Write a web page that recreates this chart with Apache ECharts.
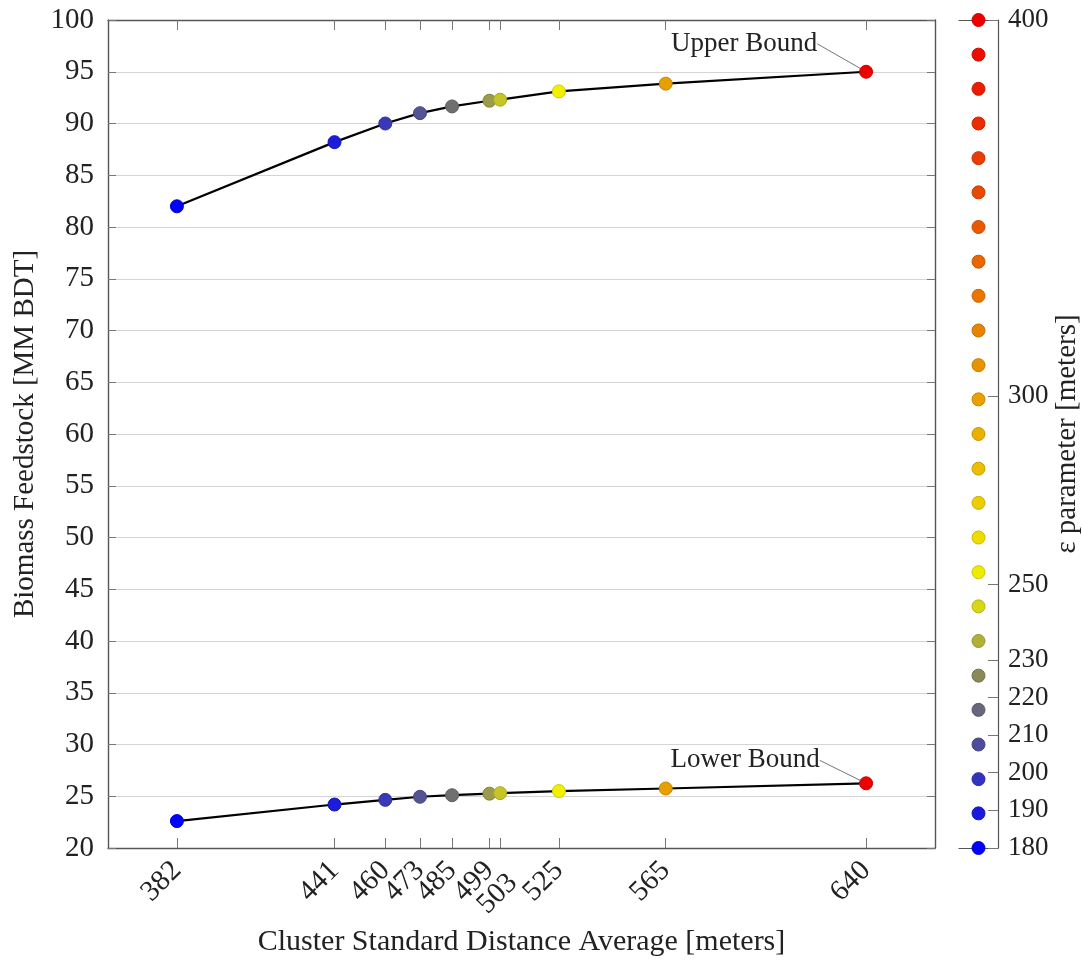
<!DOCTYPE html>
<html>
<head>
<meta charset="utf-8">
<script src="https://cdn.jsdelivr.net/npm/echarts@6/dist/echarts.min.js"></script>
<style>
html,body{margin:0;padding:0;background:#fff;}
#chart{width:1082px;height:960px;}
</style>
</head>
<body>
<div id="chart"></div>
<script>
// ---- data ----
const xVals = [382, 441, 460, 473, 485, 499, 503, 525, 565, 640];
const epsVals = [180, 190, 200, 210, 220, 230, 240, 250, 300, 400];
const upperBound = [82.0, 88.2, 90.0, 91.0, 91.65, 92.2, 92.3, 93.1, 93.85, 95.0];
const lowerBound = [22.6, 24.2, 24.65, 24.95, 25.1, 25.25, 25.3, 25.5, 25.75, 26.25];
const epsTicks = [180, 190, 200, 210, 220, 230, 250, 300, 400];
const colorbarEps = [180, 189.2, 198.3, 207.5, 216.7, 225.8, 235, 244.2, 253.3, 262.5, 271.7, 280.8, 290, 299.2, 308.3, 317.5, 326.7, 335.8, 345, 354.2, 363.3, 372.5, 381.7, 390.8, 400];
const xMin = 356.2, xMax = 665.8;
const yMin = 20, yMax = 100, yStep = 5;
const epsMin = 180, epsMax = 400;

// ---- style ----
const FONT = '"Liberation Serif", "Times New Roman", serif';
const FS = 29;
const frameColor = '#555';
const cmapStops = [[180, [0, 0, 255]], [220, [112, 112, 112]], [250, [240, 240, 0]], [300, [232, 160, 0]], [400, [236, 0, 0]]];
function cmap(v, k) {
  k = k || 1;
  let c = cmapStops[cmapStops.length - 1][1];
  for (let i = 0; i < cmapStops.length - 1; i++) {
    const a = cmapStops[i], b = cmapStops[i + 1];
    if (v >= a[0] && v <= b[0]) {
      const t = (v - a[0]) / (b[0] - a[0]);
      c = a[1].map((x, j) => x + (b[1][j] - x) * t);
      break;
    }
  }
  return 'rgb(' + c.map(x => Math.round(x * k)).join(',') + ')';
}

function lineSeries(name, vals, labelText, dx, dy) {
  const last = vals.length - 1;
  return {
    type: 'line', name: name, xAxisIndex: 0, yAxisIndex: 0,
    data: vals.map((v, i) => ({
      value: [xVals[i], v],
      itemStyle: { color: cmap(epsVals[i]), borderColor: cmap(epsVals[i], 0.85), borderWidth: 1, opacity: 1 },
      label: i === last ? { show: true, formatter: labelText } : { show: false }
    })),
    symbol: 'circle', symbolSize: 13, showSymbol: true,
    lineStyle: { color: '#000', width: 2.2 },
    label: { position: 'inside', fontFamily: FONT, fontSize: 27, color: '#222' },
    labelLayout: function (p) { return p.dataIndex === last ? { dx: dx, dy: dy } : {}; },
    labelLine: { show: true, lineStyle: { color: '#777', width: 1 } },
    z: 3, animation: false
  };
}

const chart = echarts.init(document.getElementById('chart'), null, { renderer: 'canvas' });
chart.setOption({
  animation: false,
  backgroundColor: '#fff',
  grid: [
    { left: 108, right: 147, top: 20, bottom: 112, containLabel: false, outerBoundsMode: 'none' },
    { left: 959, width: 39, top: 20, bottom: 112, containLabel: false, outerBoundsMode: 'none' }
  ],
  xAxis: [
    {
      gridIndex: 0, type: 'value', min: xMin, max: xMax, position: 'bottom',
      name: 'Cluster Standard Distance Average [meters]', nameLocation: 'middle', nameGap: 76,
      nameTextStyle: { fontFamily: FONT, fontSize: 30, color: '#222' },
      axisLine: { show: true, onZero: false, lineStyle: { color: frameColor, width: 1.4 } },
      axisTick: { show: true, inside: true, length: 10, customValues: xVals, lineStyle: { color: '#777' } },
      axisLabel: {
        show: true, customValues: xVals, rotate: 45, margin: 18, hideOverlap: false,
        fontFamily: FONT, fontSize: FS, color: '#222',
        formatter: function (v) { return v === 503 ? '{low|503}' : String(v); },
        rich: { low: { fontFamily: FONT, fontSize: FS, color: '#222', padding: [36, 0, 0, 0] } }
      },
      splitLine: { show: false }
    },
    {
      gridIndex: 0, type: 'value', min: xMin, max: xMax, position: 'top',
      axisLine: { show: true, onZero: false, lineStyle: { color: frameColor, width: 1.4 } },
      axisTick: { show: true, inside: true, length: 10, customValues: xVals, lineStyle: { color: '#777' } },
      axisLabel: { show: false }, splitLine: { show: false }
    },
    {
      gridIndex: 1, type: 'category', data: [''], position: 'bottom',
      axisLine: { show: true, lineStyle: { color: frameColor, width: 1.2 } },
      axisTick: { show: false }, axisLabel: { show: false }, splitLine: { show: false }
    },
    {
      gridIndex: 1, type: 'category', data: [''], position: 'top',
      axisLine: { show: true, lineStyle: { color: frameColor, width: 1.2 } },
      axisTick: { show: false }, axisLabel: { show: false }, splitLine: { show: false }
    }
  ],
  yAxis: [
    {
      gridIndex: 0, type: 'value', min: yMin, max: yMax, interval: yStep, position: 'left',
      name: 'Biomass Feedstock [MM BDT]', nameLocation: 'middle', nameGap: 66, nameRotate: 90,
      nameTextStyle: { fontFamily: FONT, fontSize: FS, color: '#222' },
      axisLine: { show: true, onZero: false, lineStyle: { color: frameColor, width: 1.4 } },
      axisTick: { show: true, inside: true, length: 8, lineStyle: { color: '#777' } },
      axisLabel: { fontFamily: FONT, fontSize: FS, color: '#222', margin: 14 },
      splitLine: { show: true, lineStyle: { color: '#d4d4d4', width: 1.2 } }
    },
    {
      gridIndex: 0, type: 'value', min: yMin, max: yMax, interval: yStep, position: 'right',
      axisLine: { show: true, onZero: false, lineStyle: { color: frameColor, width: 1.4 } },
      axisTick: { show: true, inside: true, length: 8, lineStyle: { color: '#777' } },
      axisLabel: { show: false }, splitLine: { show: false }
    },
    {
      gridIndex: 1, type: 'value', min: epsMin, max: epsMax, position: 'right',
      name: 'ε parameter [meters]', nameLocation: 'middle', nameGap: 54, nameRotate: 90,
      nameTextStyle: { fontFamily: FONT, fontSize: FS, color: '#222' },
      axisLine: { show: true, onZero: false, lineStyle: { color: frameColor, width: 1.2 } },
      axisTick: { show: true, inside: true, length: 10, customValues: epsTicks, lineStyle: { color: '#777' } },
      axisLabel: { show: true, customValues: epsTicks, fontFamily: FONT, fontSize: 27, color: '#222', margin: 10 },
      splitLine: { show: false }
    }
  ],
  series: [
    lineSeries('Upper', upperBound, 'Upper Bound', -122, -28),
    lineSeries('Lower', lowerBound, 'Lower Bound', -121, -23),
    {
      type: 'scatter', xAxisIndex: 2, yAxisIndex: 2,
      data: colorbarEps.map(e => ({ value: [0, e], itemStyle: { color: cmap(e), borderColor: cmap(e, 0.85), borderWidth: 1, opacity: 1 } })),
      symbol: 'circle', symbolSize: 13, z: 3, animation: false
    }
  ]
});
</script>
</body>
</html>
